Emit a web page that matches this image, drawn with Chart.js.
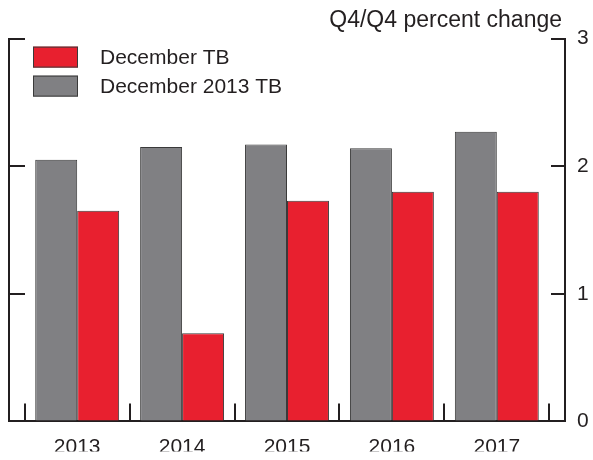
<!DOCTYPE html>
<html>
<head>
<meta charset="utf-8">
<script src="https://cdn.jsdelivr.net/npm/chart.js@4/dist/chart.umd.min.js"></script>
<style>
  html, body { margin: 0; padding: 0; background: #fff; }
  #wrap { width: 593px; height: 460px; position: relative; }
</style>
</head>
<body>
<div id="wrap"><canvas id="chart"></canvas></div>
<script>
// data
const years = ['2013', '2014', '2015', '2016', '2017'];
const december2013TB = [2.05, 2.15, 2.17, 2.14, 2.27];
const decemberTB = [1.65, 0.69, 1.73, 1.80, 1.80];
const yTicks = [0, 1, 2, 3];

const colors = {
  red: '#e8202f',
  gray: '#808083',
  edge: '#3a3a3a',
  ink: '#231f20'
};
const FONT = '"Liberation Sans", Arial, sans-serif';

// tick marks sit between the years, labels sit on them
const xTickValues = [];
for (let i = -0.5; i <= years.length - 0.5; i += 0.5) xTickValues.push(i);

const isLabelTick = v => Number.isInteger(v);
const tickColor = ctx => (ctx.tick && isLabelTick(ctx.tick.value)) ? 'rgba(0,0,0,0)' : colors.ink;

// legend + unit title drawn on the canvas
const overlay = {
  id: 'overlay',
  afterDraw(chart) {
    const ctx = chart.ctx;
    const area = chart.chartArea;
    ctx.save();
    ctx.fillStyle = colors.ink;
    ctx.font = '23px ' + FONT;
    ctx.textAlign = 'right';
    ctx.textBaseline = 'alphabetic';
    ctx.fillText('Q4/Q4 percent change', area.right - 3, 27);

    const items = chart.data.datasets.slice().reverse();
    ctx.font = '21px ' + FONT;
    ctx.textAlign = 'left';
    ctx.textBaseline = 'middle';
    items.forEach((ds, i) => {
      const x = area.left + 24;
      const y = area.top + 8 + i * 29;
      ctx.fillStyle = ds.backgroundColor;
      ctx.fillRect(x, y, 45, 21);
      ctx.strokeStyle = colors.edge;
      ctx.lineWidth = 1;
      ctx.strokeRect(x + 0.5, y + 0.5, 44, 20);
      ctx.fillStyle = colors.ink;
      ctx.fillText(ds.label, x + 67, y + 12);
    });
    ctx.restore();
  }
};

new Chart(document.getElementById('chart'), {
  type: 'bar',
  data: {
    datasets: [
      {
        label: 'December 2013 TB',
        data: years.map((_, i) => ({ x: i, y: december2013TB[i] })),
        backgroundColor: colors.gray,
        borderColor: colors.edge,
        borderWidth: 1,
        yAxisID: 'y'
      },
      {
        label: 'December TB',
        data: years.map((_, i) => ({ x: i, y: decemberTB[i] })),
        backgroundColor: colors.red,
        borderColor: colors.edge,
        borderWidth: 1,
        yAxisID: 'y'
      }
    ]
  },
  options: {
    responsive: true,
    maintainAspectRatio: false,
    animation: false,
    // ruler spacing is the half-step tick gap, so the pair spans 1.6 of it
    categoryPercentage: 1.6,
    barPercentage: 1.0,
    layout: { padding: { top: 37, left: 0, right: 0, bottom: 0 } },
    plugins: {
      legend: { display: false },
      tooltip: { enabled: false }
    },
    scales: {
      x: {
        type: 'linear',
        position: 'bottom',
        offset: false,
        min: -0.65,
        max: years.length - 0.35,
        afterBuildTicks: scale => { scale.ticks = xTickValues.map(v => ({ value: v })); },
        afterFit: scale => {
          scale.height = 30;
          // label padding would otherwise push the plot inwards
          scale.paddingLeft = 0;
          scale.paddingRight = 0;
        },
        grid: {
          offset: false,
          drawOnChartArea: false,
          drawTicks: true,
          tickLength: -18,
          lineWidth: 2,
          tickWidth: 2,
          color: tickColor,
          tickColor: tickColor
        },
        border: { display: true, color: colors.ink, width: 2 },
        ticks: {
          autoSkip: false,
          maxRotation: 0,
          padding: 31,
          color: colors.ink,
          font: { family: FONT, size: 21 },
          callback: v => isLabelTick(v) ? years[v] : ''
        }
      },
      y: {
        position: 'right',
        min: 0,
        max: 3,
        afterBuildTicks: scale => { scale.ticks = yTicks.map(v => ({ value: v })); },
        afterFit: scale => { scale.width = 28; },
        grid: {
          drawOnChartArea: false,
          tickLength: -14,
          lineWidth: 2,
          tickWidth: 2,
          color: colors.ink,
          tickColor: colors.ink
        },
        border: { display: true, color: colors.ink, width: 2 },
        ticks: {
          padding: 26,
          color: colors.ink,
          font: { family: FONT, size: 21 }
        }
      },
      yLeft: {
        position: 'left',
        min: 0,
        max: 3,
        afterBuildTicks: scale => { scale.ticks = yTicks.map(v => ({ value: v })); },
        afterFit: scale => { scale.width = 9; },
        grid: {
          drawOnChartArea: false,
          tickLength: -16,
          lineWidth: 2,
          tickWidth: 2,
          color: colors.ink,
          tickColor: colors.ink
        },
        border: { display: true, color: colors.ink, width: 2 },
        ticks: { display: false }
      }
    }
  },
  plugins: [overlay]
});
</script>
</body>
</html>
